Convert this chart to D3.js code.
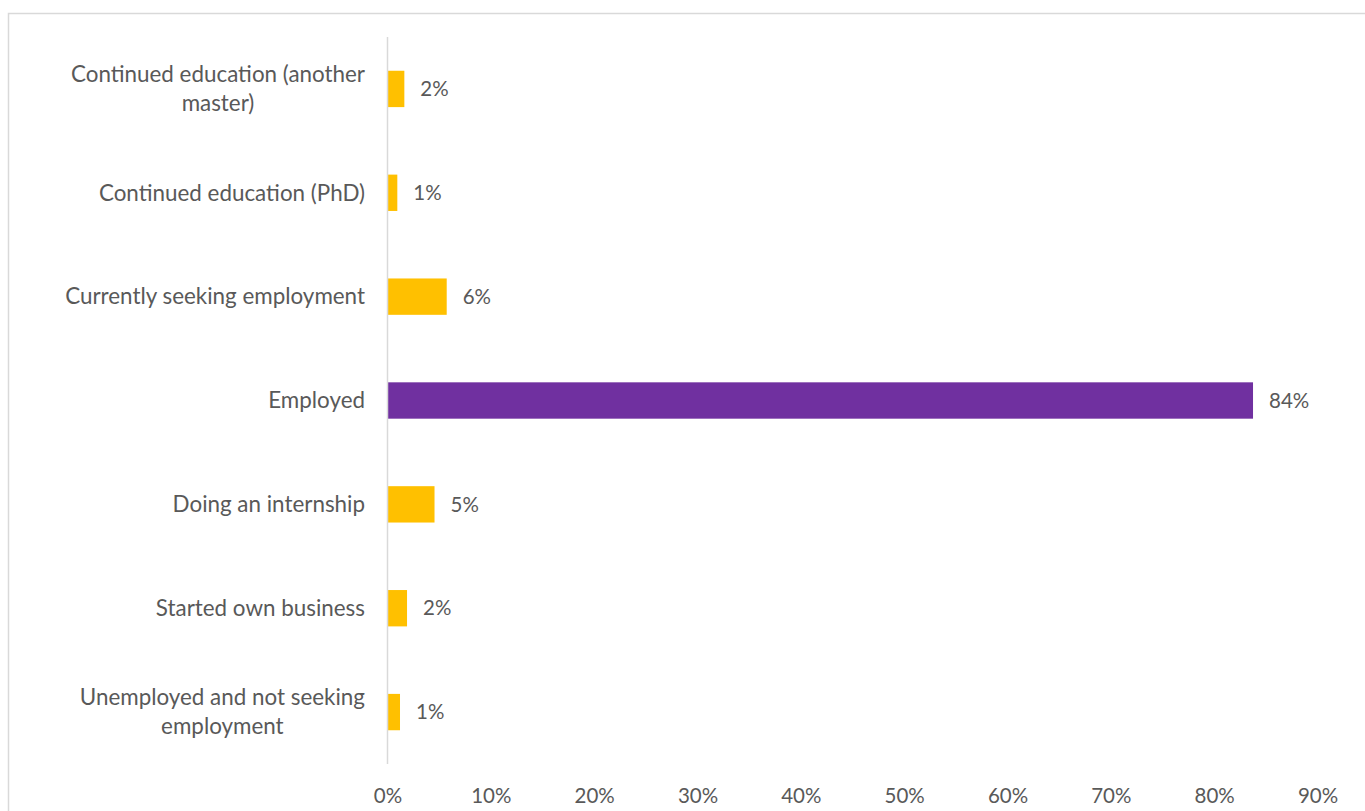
<!DOCTYPE html>
<html>
<head>
<meta charset="utf-8">
<script src="https://cdn.jsdelivr.net/npm/d3@7"></script>
<style>
  html, body { margin: 0; padding: 0; background: #fff; }
  svg { display: block; }
  text { font-family: "Lato", "Open Sans", sans-serif; fill: #595959; }
</style>
</head>
<body>
<svg id="chart" width="1365" height="811"></svg>
<script>
// Outcome categories, top to bottom, with wrapped label lines
const categories = [
  "Continued education (another master)",
  "Continued education (PhD)",
  "Currently seeking employment",
  "Employed",
  "Doing an internship",
  "Started own business",
  "Unemployed and not seeking employment"
];
const labelLines = [
  ["Continued education (another", "master)"],
  ["Continued education (PhD)"],
  ["Currently seeking employment"],
  ["Employed"],
  ["Doing an internship"],
  ["Started own business"],
  ["Unemployed and not seeking", "employment"]
];
// Share of respondents (fraction)
const shares = [0.0163, 0.0095, 0.0573, 0.8376, 0.0455, 0.0189, 0.0121];
const highlight = "Employed";
const xTicks = [0, 0.1, 0.2, 0.3, 0.4, 0.5, 0.6, 0.7, 0.8, 0.9];

const svg = d3.select("#chart");
const W = 1365, H = 811;
const margin = { left: 387.5, top: 37, bottom: 764 };
const catSize = 22.4, numSize = 20.5;

// chart frame
svg.append("rect")
  .attr("x", 8.5).attr("y", 13.5)
  .attr("width", W).attr("height", H)
  .attr("fill", "none").attr("stroke", "#D9D9D9").attr("stroke-width", 1.5);

const x = d3.scaleLinear().domain([0, 0.9]).range([margin.left, 1317.5]);
const y = d3.scaleBand().domain(categories).range([margin.top, margin.bottom]).paddingInner(0.65).paddingOuter(0.325);

// bars
svg.append("g").selectAll("rect")
  .data(categories)
  .join("rect")
  .attr("x", x(0))
  .attr("y", d => y(d))
  .attr("width", (d, i) => x(shares[i]) - x(0))
  .attr("height", y.bandwidth())
  .attr("fill", d => d === highlight ? "#7030A0" : "#FFC000");

// vertical category axis line
svg.append("line")
  .attr("x1", x(0)).attr("x2", x(0))
  .attr("y1", margin.top).attr("y2", margin.bottom)
  .attr("stroke", "#D9D9D9").attr("stroke-width", 1.5);

// bottom tick labels
const xAxis = d3.axisBottom(x).tickValues(xTicks).tickFormat(d3.format(".0%")).tickSize(0).tickPadding(0);
const gx = svg.append("g").attr("transform", `translate(0, 796)`).call(xAxis);
gx.select(".domain").remove();
gx.selectAll("text")
  .attr("font-size", numSize).attr("dy", "0.35em")
  .style("font-family", '"Lato", "Open Sans", sans-serif').attr("fill", "#595959");

// value labels
const fmt = d3.format(".0%");
svg.append("g").selectAll("text")
  .data(categories)
  .join("text")
  .attr("x", (d, i) => x(shares[i]) + 16)
  .attr("y", d => y(d) + y.bandwidth() / 2)
  .attr("dy", "0.35em")
  .attr("font-size", numSize)
  .text((d, i) => fmt(shares[i]));

// category labels, right-aligned block, lines centered within block
const labelRight = 365;
const lineGap = 29;
const lg = svg.append("g");
categories.forEach((c, i) => {
  const lines = labelLines[i];
  const cy = y(c) + y.bandwidth() / 2;
  const t = lg.append("text").attr("font-size", catSize).attr("text-anchor", "middle");
  const spans = lines.map((ln, j) =>
    t.append("tspan")
      .attr("y", cy + (j - (lines.length - 1) / 2) * lineGap)
      .attr("dy", "0.35em")
      .text(ln));
  const maxW = d3.max(spans, s => s.node().getComputedTextLength());
  spans.forEach(s => s.attr("x", labelRight - maxW / 2));
});
</script>
</body>
</html>
